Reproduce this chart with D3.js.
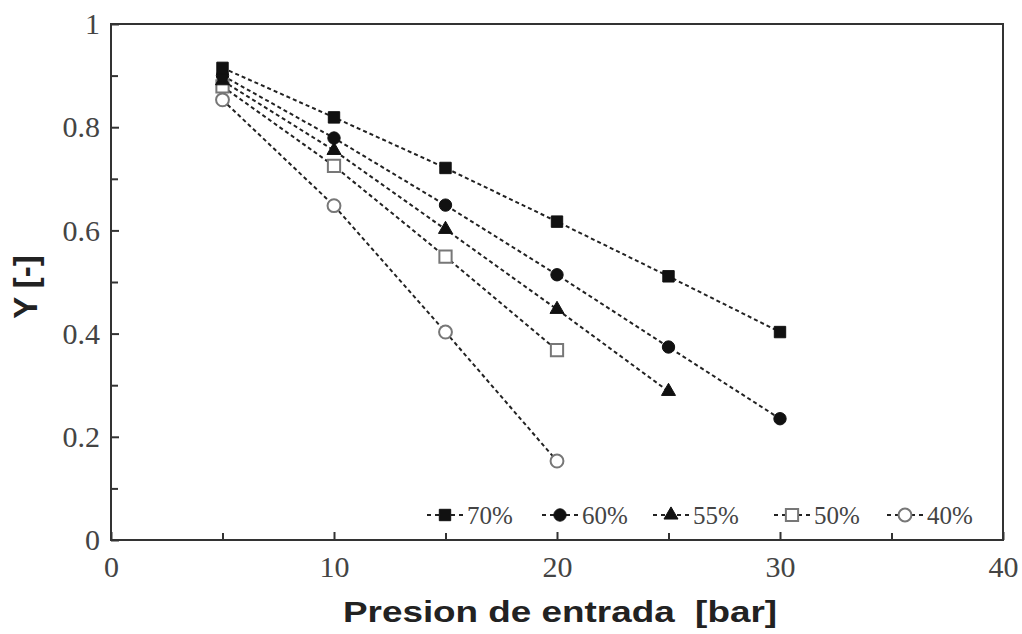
<!DOCTYPE html>
<html>
<head>
<meta charset="utf-8">
<script src="https://cdn.jsdelivr.net/npm/d3@7"></script>
<style>
  body { margin: 0; background: #fff; }
  svg { display: block; }
  .serif { font-family: "Liberation Serif", "Times New Roman", Times, serif; }
</style>
</head>
<body>
<div id="chart"></div>
<script>
// Data
const pressures = [5, 10, 15, 20, 25, 30];
const seriesNames = ["70%", "60%", "55%", "50%", "40%"];
const y70 = [0.915, 0.819, 0.721, 0.617, 0.511, 0.403];
const y60 = [0.900, 0.779, 0.649, 0.514, 0.374, 0.235];
const y55 = [0.890, 0.755, 0.602, 0.447, 0.288];
const y50 = [0.879, 0.725, 0.549, 0.368];
const y40 = [0.853, 0.648, 0.403, 0.153];
const xTicks = [0, 10, 20, 30, 40];
const yTicks = [0, 0.2, 0.4, 0.6, 0.8, 1];

const width = 1022, height = 634;
const margin = {left: 111, top: 24, right: 19, bottom: 94};

const svg = d3.select("#chart").append("svg")
    .attr("width", width)
    .attr("height", height);

const x = d3.scaleLinear().domain([0, 40]).range([margin.left, width - margin.right]);
const y = d3.scaleLinear().domain([0, 1]).range([height - margin.bottom, margin.top]);

const axisColor = "#333";

// minor ticks
svg.append("g")
    .attr("transform", "translate(0," + y(0) + ")")
    .call(d3.axisBottom(x).tickValues([5, 15, 25, 35]).tickSize(-7).tickFormat(""))
    .call(g => g.select(".domain").remove());
svg.append("g")
    .attr("transform", "translate(" + x(0) + ",0)")
    .call(d3.axisLeft(y).tickValues([0.1, 0.3, 0.5, 0.7, 0.9]).tickSize(-7).tickFormat(""))
    .call(g => g.select(".domain").remove());

// major ticks
const xAxis = svg.append("g")
    .attr("transform", "translate(0," + y(0) + ")")
    .call(d3.axisBottom(x).tickValues(xTicks).tickSizeInner(-8).tickPadding(16).tickFormat(d3.format("d")));
const yAxis = svg.append("g")
    .attr("transform", "translate(" + x(0) + ",0)")
    .call(d3.axisLeft(y).tickValues(yTicks).tickSizeInner(-8).tickPadding(11).tickFormat(d => d === 0 || d === 1 ? d : d.toFixed(1)));

[xAxis, yAxis].forEach(g => {
    g.select(".domain").remove();
    g.attr("font-family", null).attr("font-size", null).attr("class", "serif");
    g.selectAll("text")
        .attr("class", "serif")
        .style("font-size", "30px")
        .attr("fill", "#444");
});
svg.selectAll(".tick line").attr("stroke", axisColor).attr("stroke-width", 2);

// frame
svg.append("rect")
    .attr("x", x(0))
    .attr("y", y(1))
    .attr("width", x(40) - x(0))
    .attr("height", y(0) - y(1))
    .attr("fill", "none")
    .attr("stroke", axisColor)
    .attr("stroke-width", 2);

// axis titles
svg.append("text")
    .attr("x", 343)
    .attr("y", 622)
    .attr("textLength", 434)
    .attr("lengthAdjust", "spacingAndGlyphs")
    .style("white-space", "pre")
    .style("font-family", "'Liberation Sans', Arial, sans-serif")
    .style("font-weight", "bold")
    .style("font-size", "29px")
    .attr("fill", "#222")
    .text("Presion de entrada  [bar]");

svg.append("text")
    .attr("transform", "translate(37,287) rotate(-90)")
    .attr("text-anchor", "middle")
    .style("font-family", "'Liberation Sans', Arial, sans-serif")
    .style("font-weight", "bold")
    .style("font-size", "33px")
    .attr("fill", "#222")
    .text("Y [-]");

// series
const series = [
    {name: seriesNames[0], values: y70, shape: d3.symbolSquare, filled: true, size: 130},
    {name: seriesNames[1], values: y60, shape: d3.symbolCircle, filled: true, size: 120},
    {name: seriesNames[2], values: y55, shape: d3.symbolTriangle, filled: true, size: 85},
    {name: seriesNames[3], values: y50, shape: d3.symbolSquare, filled: false, size: 150},
    {name: seriesNames[4], values: y40, shape: d3.symbolCircle, filled: false, size: 130}
];

const line = d3.line()
    .x((d, i) => x(pressures[i]))
    .y(d => y(d));

function drawMarker(g, s, cx, cy) {
    g.append("path")
        .attr("d", d3.symbol().type(s.shape).size(s.size)())
        .attr("transform", "translate(" + cx + "," + cy + ")")
        .attr("fill", s.filled ? "#111" : "#fff")
        .attr("stroke", s.filled ? "#111" : "#777")
        .attr("stroke-width", s.filled ? 1 : 2);
}

const seriesGroup = svg.append("g");
series.forEach(s => {
    seriesGroup.append("path")
        .datum(s.values)
        .attr("d", line)
        .attr("fill", "none")
        .attr("stroke", "#222")
        .attr("stroke-width", 2)
        .attr("stroke-dasharray", "4,3");
});
series.slice().reverse().forEach(s => {
    s.values.forEach((v, i) => drawMarker(seriesGroup, s, x(pressures[i]), y(v)));
});

// legend
const legendX = [445, 560, 671, 792, 905];
const legendY = 515;
const legend = svg.append("g");
series.forEach((s, i) => {
    const cx = legendX[i];
    legend.append("line")
        .attr("x1", cx - 18).attr("x2", cx + 18)
        .attr("y1", legendY).attr("y2", legendY)
        .attr("stroke", "#222")
        .attr("stroke-width", 2)
        .attr("stroke-dasharray", "4,4");
    drawMarker(legend, s, cx, legendY);
    legend.append("text")
        .attr("class", "serif")
        .attr("x", cx + 22)
        .attr("y", legendY + 9)
        .style("font-size", "25px")
        .attr("fill", "#444")
        .text(s.name);
});
</script>
</body>
</html>
